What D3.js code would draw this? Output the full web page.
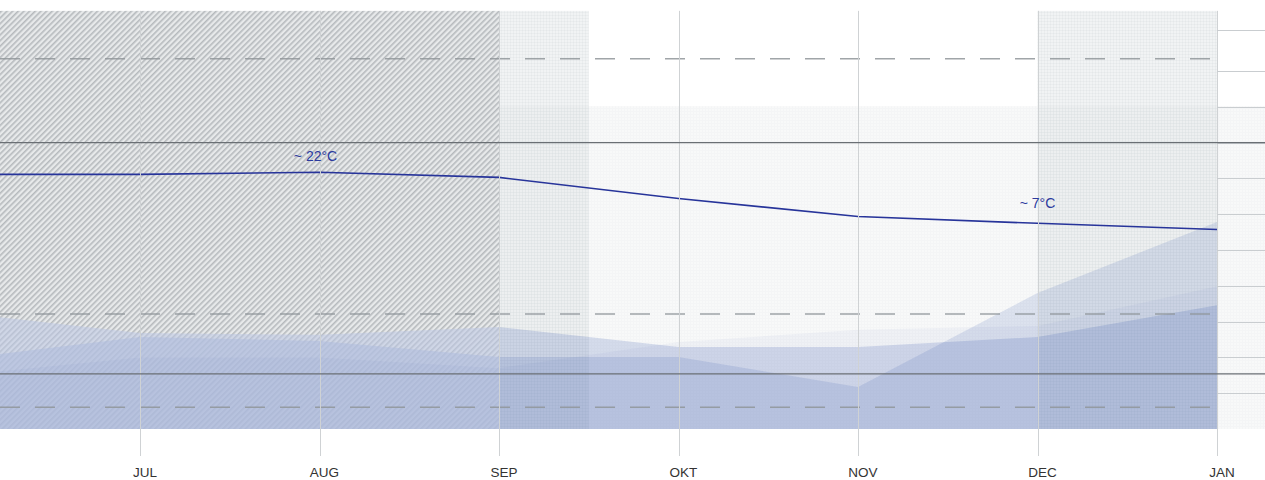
<!DOCTYPE html>
<html>
<head>
<meta charset="utf-8">
<script src="https://cdn.jsdelivr.net/npm/d3@7/dist/d3.min.js"></script>
<style>
  html, body { margin: 0; padding: 0; background: #fff; }
  svg { display: block; font-family: "Liberation Sans", Arial, sans-serif; }
</style>
</head>
<body>
<svg id="chart" width="1265" height="480"></svg>
<script>
// ---------------- data ----------------
// month index: 0 = JUN (off-chart left), 1 = JUL ... 7 = JAN
const months      = ["JUN", "JUL", "AUG", "SEP", "OKT", "NOV", "DEC", "JAN"];
const monthLabels = ["JUL", "AUG", "SEP", "OKT", "NOV", "DEC", "JAN"];
const temperature = [21.6, 21.6, 22.2, 20.7, 14.5, 9.2, 7.2, 5.4];      // °C
const seriesA     = [15.0, 20.0, 20.0, 17.0, 24.3, 27.7, 28.8, 39.9];   // faint area
const seriesB     = [32.5, 26.8, 26.3, 28.5, 22.9, 22.9, 25.7, 34.6];   // light area
const seriesC     = [19.6, 25.7, 24.6, 20.1, 20.1, 11.7, 38.0, 57.8];   // V-shaped area
const gutterTicks = [10, 20, 30, 40, 50, 60, 70, 80, 90, 100, 111.5];
const solidRefs   = [80, 15.4];
const dashedRefs  = [103.4, 32.1, 6.1];
const tempLabels  = [{ i: 2, text: "~ 22°C" }, { i: 6, text: "~ 7°C" }];
const hatchBand   = [0, 3];       // JUN .. SEP
const dotBands    = [[3, 3.5], [6, 7]];
const lightBand   = [0, 90.2];    // in precipitation units
const plotTop     = 116.8;

// ---------------- layout ----------------
const W = 1265, plotRight = 1217, baseY = 429, tickBottom = 456;
const svg = d3.select("#chart");
const x  = d3.scaleLinear().domain([0, 7]).range([-39.5, plotRight]);
const yP = d3.scaleLinear().domain([0, 100]).range([baseY, 71]);
const yT = d3.scaleLinear().domain([0, 30]).range([247.8, 145.8]);
const idx = d3.range(months.length);

const defs = svg.append("defs");
const hp = defs.append("pattern").attr("id", "hatch").attr("width", 4).attr("height", 4)
  .attr("patternUnits", "userSpaceOnUse").attr("patternTransform", "rotate(45)");
hp.append("rect").attr("width", 4).attr("height", 4).attr("fill", "#e7e9ea");
hp.append("rect").attr("width", 1.6).attr("height", 4).attr("fill", "#b6babd");

function gridPattern(id, bg, fg) {
  const p = defs.append("pattern").attr("id", id).attr("width", 3).attr("height", 3)
    .attr("patternUnits", "userSpaceOnUse");
  p.append("rect").attr("width", 3).attr("height", 3).attr("fill", bg);
  p.append("rect").attr("width", 3).attr("height", 1).attr("fill", fg);
  p.append("rect").attr("width", 1).attr("height", 3).attr("fill", fg);
}
gridPattern("dots", "rgba(220,224,227,0.4)", "rgba(200,205,209,0.16)");
gridPattern("band", "#f8f9f9", "#f4f5f6");

defs.append("clipPath").attr("id", "plotclip").append("rect")
  .attr("x", 0).attr("y", 0).attr("width", plotRight).attr("height", 480);
defs.append("clipPath").attr("id", "hatchclip").append("rect")
  .attr("x", x(hatchBand[0])).attr("width", x(hatchBand[1]) - x(hatchBand[0]))
  .attr("y", 0).attr("height", 480);

// light horizontal band
svg.append("rect").attr("x", 0).attr("width", W)
  .attr("y", yP(lightBand[1])).attr("height", yP(lightBand[0]) - yP(lightBand[1]))
  .attr("fill", "url(#band)");

const plot = svg.append("g").attr("clip-path", "url(#plotclip)");

// dotted bands
plot.selectAll("rect.dot").data(dotBands).join("rect").attr("class", "dot")
  .attr("x", d => x(d[0])).attr("width", d => x(d[1]) - x(d[0]))
  .attr("y", yP(plotTop)).attr("height", yP(0) - yP(plotTop))
  .attr("fill", "url(#dots)");

// hatched band
plot.append("rect")
  .attr("x", x(hatchBand[0])).attr("width", x(hatchBand[1]) - x(hatchBand[0]))
  .attr("y", yP(plotTop)).attr("height", yP(0) - yP(plotTop))
  .attr("fill", "url(#hatch)");

const series = [[seriesA, 0.05], [seriesB, 0.2], [seriesC, 0.155]];
const areaGen = vals => d3.area().x(i => x(i)).y0(yP(0)).y1(i => yP(vals[i]))(idx);

// soften the hatch beneath the areas
const knock = plot.append("g").attr("clip-path", "url(#hatchclip)");
series.slice(1).forEach(([vals]) => {
  knock.append("path").attr("d", areaGen(vals)).attr("fill", "#ffffff").attr("fill-opacity", 0.45);
});

// areas
const areaColor = "rgb(72,102,178)";
series.forEach(([vals, op]) => {
  plot.append("path").attr("d", areaGen(vals)).attr("fill", areaColor).attr("fill-opacity", op);
});

// vertical month gridlines
svg.selectAll("line.vgrid").data(d3.range(1, 8)).join("line").attr("class", "vgrid")
  .attr("x1", i => Math.round(x(i)) + 0.5).attr("x2", i => Math.round(x(i)) + 0.5)
  .attr("y1", yP(plotTop)).attr("y2", tickBottom)
  .attr("stroke", "#cfd2d4").attr("stroke-width", 1);

// gutter ticks
svg.selectAll("line.gt").data(gutterTicks).join("line").attr("class", "gt")
  .attr("x1", plotRight).attr("x2", W)
  .attr("y1", d => Math.round(yP(d)) + 0.5).attr("y2", d => Math.round(yP(d)) + 0.5)
  .attr("stroke", "#c9cdd0").attr("stroke-width", 1);

// dashed reference lines
plot.selectAll("line.dash").data(dashedRefs).join("line").attr("class", "dash")
  .attr("x1", 0).attr("x2", plotRight)
  .attr("y1", d => yP(d)).attr("y2", d => yP(d))
  .attr("stroke", "#8f9599").attr("stroke-opacity", 0.85).attr("stroke-width", 1.5)
  .attr("stroke-dasharray", "20,15");

// solid reference lines
svg.selectAll("line.solid").data(solidRefs).join("line").attr("class", "solid")
  .attr("x1", 0).attr("x2", W)
  .attr("y1", d => yP(d)).attr("y2", d => yP(d))
  .attr("stroke", "#6a6f74").attr("stroke-width", 1.4);

// temperature line
const line = d3.line().x(i => x(i)).y(i => yT(temperature[i]));
plot.append("path").attr("d", line(idx)).attr("fill", "none")
  .attr("stroke", "#27349a").attr("stroke-width", 1.6);

// temperature labels
const labelOffset = { 2: -11.5, 6: -15.5 };
const labelDx = { 2: -4, 6: 0 };
svg.selectAll("text.tl").data(tempLabels).join("text").attr("class", "tl")
  .attr("x", d => x(d.i) + labelDx[d.i]).attr("y", d => yT(temperature[d.i]) + labelOffset[d.i])
  .attr("text-anchor", "middle").attr("font-size", 14).attr("fill", "#2b3a9e")
  .text(d => d.text);

// month labels
svg.selectAll("text.ml").data(monthLabels).join("text").attr("class", "ml")
  .attr("x", (d, k) => x(k + 1) + 5).attr("y", 477)
  .attr("text-anchor", "middle").attr("font-size", 13.5).attr("fill", "#333")
  .text(d => d);
</script>
</body>
</html>
